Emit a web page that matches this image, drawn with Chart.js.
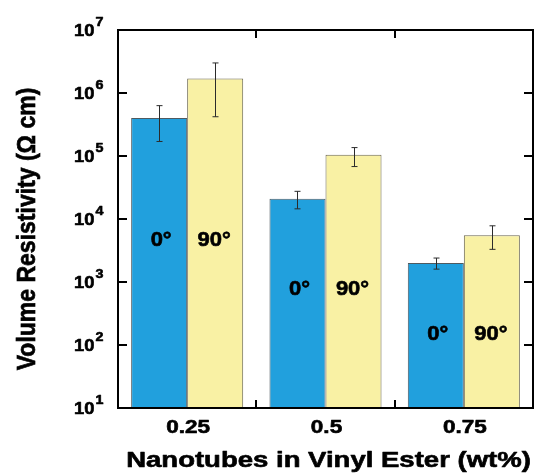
<!DOCTYPE html>
<html>
<head>
<meta charset="utf-8">
<script src="https://cdn.jsdelivr.net/npm/chart.js@4/dist/chart.umd.min.js"></script>
<style>
  html, body { margin: 0; padding: 0; background: #ffffff; }
  #wrap { width: 535px; height: 473px; position: relative; }
</style>
</head>
<body>
<div id="wrap"><canvas id="chart"></canvas></div>
<script>
// Nanotube loading (wt%) in the vinyl ester matrix
const categories = ['0.25', '0.5', '0.75'];
// Volume resistivity (Ω cm), measured along 0° and 90°
const resistivity0 = [4.0e5, 2.1e4, 2.0e3];
const resistivity90 = [1.7e6, 1.05e5, 5.5e3];
// Error bar limits (Ω cm)
const errLow0 = [1.7e5, 1.45e4, 1.6e3];
const errHigh0 = [6.3e5, 2.75e4, 2.4e3];
const errLow90 = [4.2e5, 6.8e4, 3.3e3];
const errHigh90 = [3.0e6, 1.36e5, 7.8e3];
// Decade exponents shown on the y axis
const decadeExponents = [1, 2, 3, 4, 5, 6, 7];
const seriesLabels = ['0°', '90°'];
const xTitle = 'Nanotubes in Vinyl Ester (wt%)';
const yTitle = 'Volume Resistivity (Ω cm)';

const FONT = '"Liberation Sans", Arial, Helvetica, sans-serif';

// Bold text with a slight horizontal stretch and a thin outline for extra weight
function drawText(ctx, text, x, y, size, sx, align, baseline) {
  ctx.save();
  ctx.font = 'bold ' + size + 'px ' + FONT;
  ctx.fillStyle = '#000';
  ctx.strokeStyle = '#000';
  ctx.lineWidth = 0.6;
  ctx.lineJoin = 'round';
  ctx.textAlign = align;
  ctx.textBaseline = baseline;
  ctx.translate(x, y);
  ctx.scale(sx, 1);
  ctx.fillText(text, 0, 0);
  ctx.strokeText(text, 0, 0);
  ctx.restore();
}

const errorBars = {
  id: 'errorBars',
  afterDatasetsDraw(chart) {
    const ctx = chart.ctx;
    const y = chart.scales.y;
    const limits = [[errLow0, errHigh0], [errLow90, errHigh90]];
    ctx.save();
    ctx.strokeStyle = '#2b2b2b';
    ctx.lineWidth = 1;
    chart.data.datasets.forEach((ds, di) => {
      const meta = chart.getDatasetMeta(di);
      meta.data.forEach((bar, i) => {
        const x = Math.round(bar.x) + 0.5;
        const yl = y.getPixelForValue(limits[di][0][i]);
        const yh = y.getPixelForValue(limits[di][1][i]);
        ctx.beginPath();
        ctx.moveTo(x, yl); ctx.lineTo(x, yh);
        ctx.moveTo(x - 3, yl); ctx.lineTo(x + 3, yl);
        ctx.moveTo(x - 3, yh); ctx.lineTo(x + 3, yh);
        ctx.stroke();
      });
    });
    ctx.restore();
  }
};

const frameAndLabels = {
  id: 'frameAndLabels',
  afterDraw(chart, args, opts) {
    const ctx = chart.ctx;
    const a = chart.chartArea;
    const xs = chart.scales.x;
    const ys = chart.scales.y;

    // in-bar series labels
    const meta0 = chart.getDatasetMeta(0);
    const meta1 = chart.getDatasetMeta(1);
    categories.forEach((c, i) => {
      const b0 = meta0.data[i];
      const b1 = meta1.data[i];
      const ly = a.bottom - opts.labelFrac[i] * (a.bottom - b0.y);
      drawText(ctx, seriesLabels[0], b0.x + 2, ly, 20, 1.1, 'center', 'middle');
      drawText(ctx, seriesLabels[1], b1.x - 1, ly, 20, 1.1, 'center', 'middle');
    });

    // frame
    ctx.save();
    ctx.strokeStyle = '#000';
    ctx.lineWidth = 2;
    ctx.strokeRect(a.left, a.top, a.right - a.left, a.bottom - a.top);

    // inward decade ticks on left and right
    decadeExponents.forEach(e => {
      const py = ys.getPixelForValue(Math.pow(10, e));
      ctx.beginPath();
      ctx.moveTo(a.left, py); ctx.lineTo(a.left + 9, py);
      ctx.moveTo(a.right, py); ctx.lineTo(a.right - 9, py);
      ctx.stroke();
    });
    // inward ticks between groups on top and bottom
    for (let i = 0; i < categories.length - 1; i++) {
      const px = Math.round((xs.getPixelForValue(i) + xs.getPixelForValue(i + 1)) / 2);
      ctx.beginPath();
      ctx.moveTo(px, a.bottom); ctx.lineTo(px, a.bottom - 8);
      ctx.moveTo(px, a.top); ctx.lineTo(px, a.top + 8);
      ctx.stroke();
    }
    ctx.restore();

    // y tick labels: 10 with superscript exponent
    decadeExponents.forEach(e => {
      const py = ys.getPixelForValue(Math.pow(10, e));
      drawText(ctx, '10', 94.5, py + 6, 17, 1.08, 'right', 'alphabetic');
      drawText(ctx, String(e), 95.5, py - 4, 13, 1.1, 'left', 'alphabetic');
    });

    // x tick labels
    categories.forEach((c, i) => {
      drawText(ctx, c, xs.getPixelForValue(i) + 1, 433, 18, 1.25, 'center', 'alphabetic');
    });

    // axis titles
    drawText(ctx, xTitle, (a.left + a.right) / 2 + 3, 467, 21.5, 1.28, 'center', 'alphabetic');
    ctx.save();
    ctx.font = 'bold 23px ' + FONT;
    ctx.fillStyle = '#000';
    ctx.strokeStyle = '#000';
    ctx.lineWidth = 0.6;
    ctx.textAlign = 'center';
    ctx.textBaseline = 'middle';
    ctx.translate(28, 229);
    ctx.scale(1.15, 1);
    ctx.rotate(-Math.PI / 2);
    ctx.fillText(yTitle, 0, 0);
    ctx.strokeText(yTitle, 0, 0);
    ctx.restore();
  }
};

new Chart(document.getElementById('chart'), {
  type: 'bar',
  data: {
    labels: categories,
    datasets: [
      {
        label: seriesLabels[0],
        data: resistivity0,
        backgroundColor: '#21a0dd',
        borderColor: '#4f5a60',
        borderWidth: 1,
        categoryPercentage: 0.81,
        barPercentage: 1.0
      },
      {
        label: seriesLabels[1],
        data: resistivity90,
        backgroundColor: '#f9f1a4',
        borderColor: '#6a6650',
        borderWidth: 1,
        categoryPercentage: 0.81,
        barPercentage: 1.0
      }
    ]
  },
  options: {
    responsive: true,
    maintainAspectRatio: false,
    animation: false,
    layout: { padding: { left: 118, top: 30, right: 2, bottom: 65 } },
    scales: {
      x: { display: false },
      y: { type: 'logarithmic', min: 10, max: 1e7, display: false }
    },
    plugins: {
      legend: { display: false },
      tooltip: { enabled: false },
      frameAndLabels: { labelFrac: [0.579, 0.565, 0.509] }
    }
  },
  plugins: [errorBars, frameAndLabels]
});
</script>
</body>
</html>
